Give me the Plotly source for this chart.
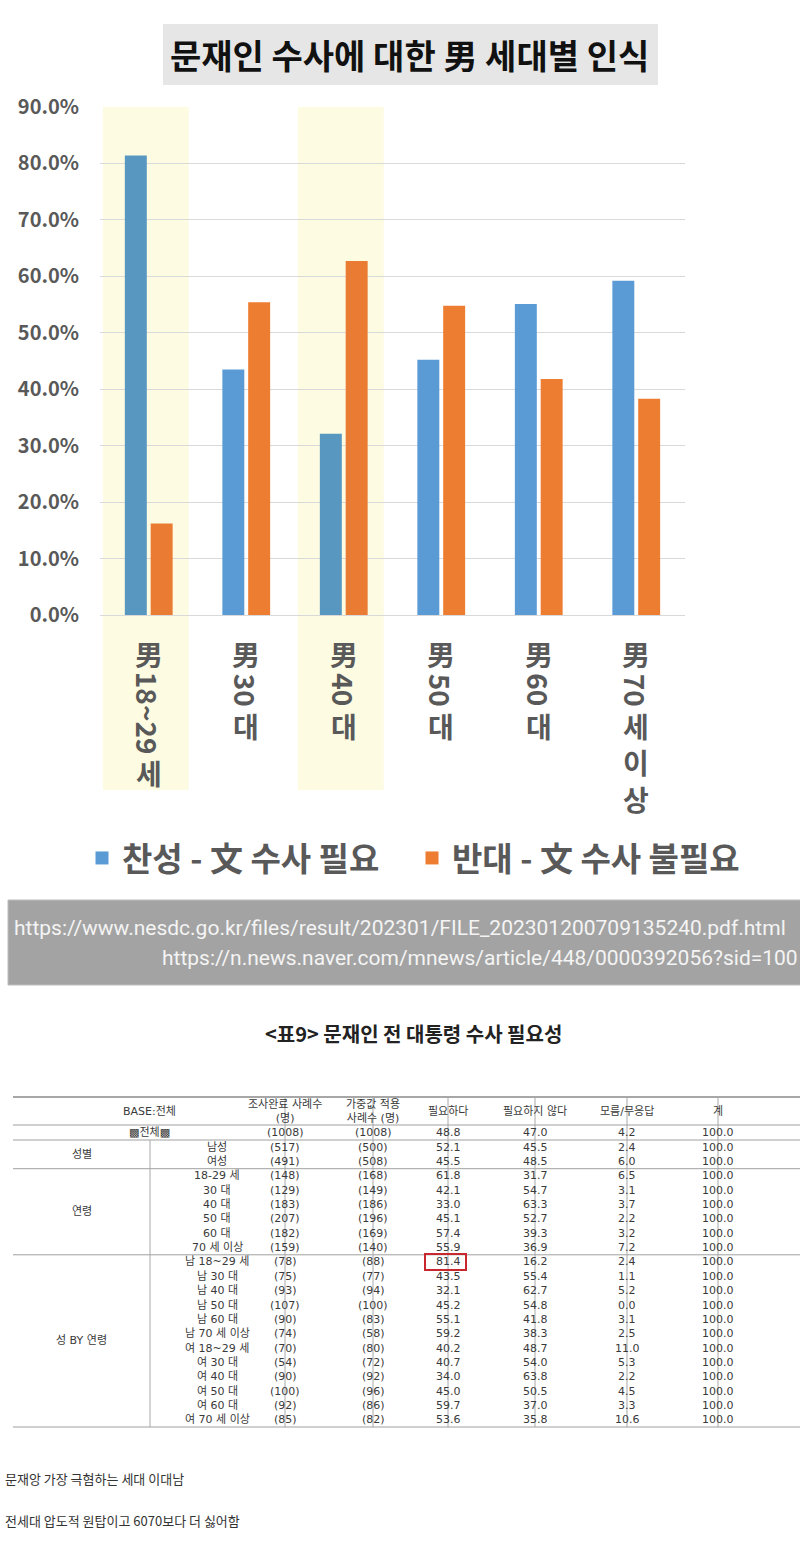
import re
import plotly.graph_objects as go

W, H = 800, 1549

# ---------------- data ----------------
chart_title = "문재인 수사에 대한 男 세대별 인식"
categories = ["男 18~29세", "男 30대", "男 40대", "男 50대", "男 60대", "男 70세 이상"]
support = [81.4, 43.5, 32.1, 45.2, 55.1, 59.2]      # 찬성 - 文 수사 필요
oppose = [16.2, 55.4, 62.7, 54.8, 41.8, 38.3]       # 반대 - 文 수사 불필요
series_names = ["찬성 - 文 수사 필요", "반대 - 文 수사 불필요"]
highlighted = ["男 18~29세", "男 40대"]
y_ticks = [0, 10, 20, 30, 40, 50, 60, 70, 80, 90]

source_urls = [
    "https://www.nesdc.go.kr/files/result/202301/FILE_202301200709135240.pdf.html",
    "https://n.news.naver.com/mnews/article/448/0000392056?sid=100",
]

table_title = "<표9> 문재인 전 대통령 수사 필요성"
header_labels = ["BASE:전체", "조사완료 사례수<br>(명)", "가중값 적용<br>사례수 (명)",
                 "필요하다", "필요하지 않다", "모름/무응답", "계"]
total_label = "▩전체▩"
group_labels = ["성별", "연령", "성 BY 연령"]
group_sizes = [2, 6, 12]
row_labels = ["남성", "여성",
              "18-29 세", "30 대", "40 대", "50 대", "60 대", "70 세 이상",
              "남 18~29 세", "남 30 대", "남 40 대", "남 50 대", "남 60 대", "남 70 세 이상",
              "여 18~29 세", "여 30 대", "여 40 대", "여 50 대", "여 60 대", "여 70 세 이상"]
n_complete = [1008, 517, 491, 148, 129, 183, 207, 182, 159,
              78, 75, 93, 107, 90, 74, 70, 54, 90, 100, 92, 85]
n_weighted = [1008, 500, 508, 168, 149, 186, 196, 169, 140,
              88, 77, 94, 100, 83, 58, 80, 72, 92, 96, 86, 82]
need = [48.8, 52.1, 45.5, 61.8, 42.1, 33.0, 45.1, 57.4, 55.9,
        81.4, 43.5, 32.1, 45.2, 55.1, 59.2, 40.2, 40.7, 34.0, 45.0, 59.7, 53.6]
not_need = [47.0, 45.5, 48.5, 31.7, 54.7, 63.3, 52.7, 39.3, 36.9,
            16.2, 55.4, 62.7, 54.8, 41.8, 38.3, 48.7, 54.0, 63.8, 50.5, 37.0, 35.8]
dont_know = [4.2, 2.4, 6.0, 6.5, 3.1, 3.7, 2.2, 3.2, 7.2,
             2.4, 1.1, 5.2, 0.0, 3.1, 2.5, 11.0, 5.3, 2.2, 4.5, 3.3, 10.6]
total = [100.0] * 21
boxed_row = 9  # 남 18~29 세, 필요하다

comments = ["문재앙 가장 극혐하는 세대 이대남", "전세대 압도적 원탑이고 6070보다 더 싫어함"]

# ---------------- style ----------------
KR = "Noto Sans CJK KR"
BLUE, BLUE_HI = "#5b9bd5", "#5898c0"
ORANGE, ORANGE_HI = "#ed7d31", "#ea7b32"
LABEL_GREY = "#595959"
GRID = "#d9d9d9"
BAND = "#fdfbe2"


def px(v):
    return v / W


def py(v):
    return 1 - v / H


PLOT_L, PLOT_R, PLOT_T, PLOT_B = 100, 685, 107, 615

fig = go.Figure()

fig.add_bar(x=categories, y=support, name=series_names[0], showlegend=False,
            marker=dict(color=[BLUE_HI if c in highlighted else BLUE for c in categories], line_width=0))
fig.add_bar(x=categories, y=oppose, name=series_names[1], showlegend=False,
            marker=dict(color=[ORANGE_HI if c in highlighted else ORANGE for c in categories], line_width=0))
# legend entries (square markers, no data)
for nm, col in zip(series_names, [BLUE, ORANGE]):
    fig.add_scatter(x=[None], y=[None], mode="markers", name=nm,
                    marker=dict(symbol="square", size=13, color=col))

shapes = []
annotations = []

# title box
shapes.append(dict(type="rect", xref="paper", yref="paper", x0=px(163), x1=px(658),
                   y0=py(85), y1=py(24), fillcolor="#e6e6e6", line_width=0, layer="below"))
annotations.append(dict(text=chart_title, xref="paper", yref="paper", x=px(410), y=py(55),
                        xanchor="center", yanchor="middle", showarrow=False,
                        font=dict(family=KR, size=34, color="#111111", weight="bold")))

# highlight bands
for c in highlighted:
    i = categories.index(c)
    shapes.append(dict(type="rect", xref="x", yref="paper", x0=i - 0.47, x1=i + 0.41,
                       y0=py(790), y1=py(PLOT_T), fillcolor=BAND, line_width=0, layer="below"))

# vertical category labels (CJK upright in stacked lines, digit runs rotated)
LAB_FS = 28
LINE = 1.3 * LAB_FS
lab_font = dict(family=KR, size=LAB_FS, color=LABEL_GREY, weight="bold")
for i, lab in enumerate(categories):
    cur = 636
    segs = re.findall(r"[0-9~\-]+|[^0-9~\-\s](?:\s*[^0-9~\-\s])*", lab)
    for seg in segs:
        if re.match(r"[0-9~\-]", seg):
            ln = len(seg) * 0.56 * LAB_FS
            annotations.append(dict(text=seg, xref="x", yref="paper", x=i, y=py(cur + ln / 2),
                                    xanchor="center", yanchor="middle", showarrow=False,
                                    textangle=90, font=lab_font))
            cur += ln + 2
        else:
            chars = [ch for ch in seg if not ch.isspace()]
            hgt = len(chars) * LINE
            annotations.append(dict(text="<br>".join(chars), xref="x", yref="paper", x=i,
                                    y=py(cur + hgt / 2), xanchor="center", yanchor="middle",
                                    showarrow=False, font=lab_font))
            cur += hgt + 2

# source box
shapes.append(dict(type="rect", xref="paper", yref="paper", x0=px(8), x1=px(802),
                   y0=py(985), y1=py(900), fillcolor="#a3a3a3", line=dict(color="#bdbdbd", width=1)))
for url, xs, ys in zip(source_urls, [12, 160], [928, 958]):
    annotations.append(dict(text=url, xref="paper", yref="paper", x=px(xs), y=py(ys),
                            xanchor="left", yanchor="middle", showarrow=False,
                            font=dict(family="Roboto", size=21, color="#f4f4f4")))

# table title
annotations.append(dict(text=table_title.replace("<", "&lt;").replace(">", "&gt;"),
                        xref="paper", yref="paper", x=px(414), y=py(1033),
                        xanchor="center", yanchor="middle", showarrow=False,
                        font=dict(family=KR, size=20, color="#222222", weight="bold")))

# ---------------- table ----------------
TF = dict(family="DejaVu Sans, " + KR, size=11, color="#3a3a3a")
col_lines = [150, 285, 373, 448, 535, 627, 718]
col_right = 808
T_TOP, HDR_B, TOT_B = 1097, 1125, 1140
PITCH = 14.35


def cell(text, xc, yc):
    annotations.append(dict(text=text, xref="paper", yref="paper", x=px(xc), y=py(yc),
                            xanchor="center", yanchor="middle", showarrow=False, font=TF))


def hline(y, color="#a0a0a0", w=1):
    shapes.append(dict(type="line", xref="paper", yref="paper", x0=px(13), x1=px(802),
                       y0=py(y), y1=py(y), line=dict(color=color, width=w)))


def vline(x, y0, y1):
    shapes.append(dict(type="line", xref="paper", yref="paper", x0=px(x), x1=px(x),
                       y0=py(y0), y1=py(y1), line=dict(color="#a8a8a8", width=1)))


edges = col_lines[1:] + [col_right]
data_centers = [(a + b) / 2 for a, b in zip(col_lines[1:], edges)]

# header
cell(header_labels[0], (13 + col_lines[1]) / 2, (T_TOP + HDR_B) / 2)
for lab, xc in zip(header_labels[1:], data_centers):
    cell(lab, xc, (T_TOP + HDR_B) / 2)
hline(T_TOP, "#8a8a8a", 1.5)
hline(HDR_B)

cols = [n_complete, n_weighted, need, not_need, dont_know, total]


def fmt(ci, v):
    return "(%d)" % v if ci < 2 else "%.1f" % v


# total row
yc = (HDR_B + TOT_B) / 2
cell(total_label, (13 + col_lines[1]) / 2, yc)
for ci, (col, xc) in enumerate(zip(cols, data_centers)):
    cell(fmt(ci, col[0]), xc, yc)
hline(TOT_B)

cur = TOT_B
r = 1
row_y = {}
for g, size in zip(group_labels, group_sizes):
    g_top = cur
    for k in range(size):
        yc = cur + PITCH / 2
        row_y[r] = yc
        cell(row_labels[r - 1], (col_lines[0] + col_lines[1]) / 2, yc)
        for ci, (col, xc) in enumerate(zip(cols, data_centers)):
            cell(fmt(ci, col[r]), xc, yc)
        cur += PITCH
        r += 1
    cell(g, (13 + col_lines[0]) / 2, (g_top + cur) / 2)
    hline(cur)
T_BOT = cur

vline(col_lines[0], TOT_B, T_BOT)
for x in col_lines[1:]:
    vline(x, T_TOP, T_BOT)

# red highlight box
bx = data_centers[2] - 2
by = row_y[boxed_row]
shapes.append(dict(type="rect", xref="paper", yref="paper", x0=px(bx - 21), x1=px(bx + 20),
                   y0=py(by + 8), y1=py(by - 8), line=dict(color="#c8282d", width=2)))

# comments
for txt, yy in zip(comments, [1478, 1520]):
    annotations.append(dict(text=txt, xref="paper", yref="paper", x=px(3), y=py(yy),
                            xanchor="left", yanchor="middle", showarrow=False,
                            font=dict(family=KR, size=13, color="#333333")))

fig.update_layout(
    width=W, height=H, margin=dict(l=0, r=0, t=0, b=0, autoexpand=False),
    paper_bgcolor="white", plot_bgcolor="rgba(0,0,0,0)",
    barmode="group", bargap=0.47, bargroupgap=0.15,
    showlegend=True,
    legend=dict(orientation="h", x=px(82), xanchor="left", y=py(858), yanchor="middle",
                entrywidth=285, entrywidthmode="pixels", bgcolor="rgba(0,0,0,0)",
                font=dict(family=KR, size=33, color=LABEL_GREY, weight="bold"),
                traceorder="normal", itemclick=False),
    xaxis=dict(domain=[px(PLOT_L), px(PLOT_R)], type="category", categoryorder="array",
               categoryarray=categories, showticklabels=False, showgrid=False,
               showline=False, ticks="", zeroline=False, automargin=False),
    yaxis=dict(domain=[py(PLOT_B), py(PLOT_T)], range=[0, 90], tickvals=y_ticks,
               ticktext=["%.1f%%" % v for v in y_ticks], showgrid=True, gridcolor=GRID,
               gridwidth=1, zeroline=True, zerolinecolor=GRID, zerolinewidth=1,
               showline=False, ticks="", ticklabelstandoff=20, automargin=False,
               tickfont=dict(family=KR, size=20, color=LABEL_GREY, weight="bold")),
    shapes=shapes, annotations=annotations,
)

fig.write_html("out.html")
